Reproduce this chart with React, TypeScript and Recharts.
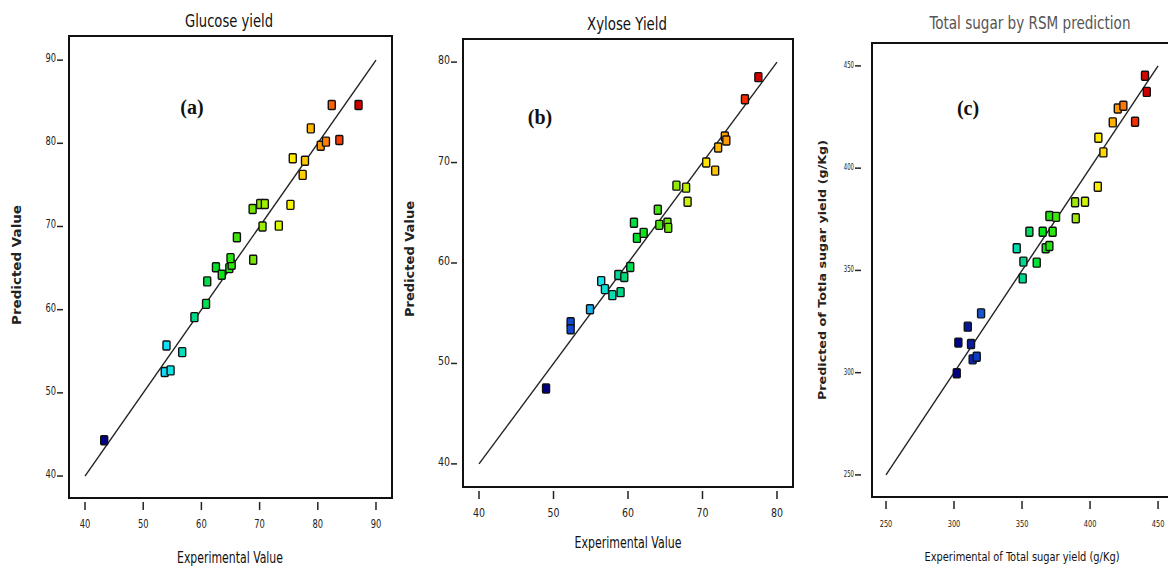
import React from 'react';
import { ScatterChart, Scatter, XAxis, YAxis, ReferenceLine, ReferenceArea } from 'recharts';

// (a) Glucose yield
const glucoseExp = [43.3, 53.7, 54.7, 54.0, 56.7, 58.8, 60.8, 61.0, 62.5, 63.5, 64.8, 65.2, 65.0, 66.1, 68.9, 68.8, 70.1, 70.9, 70.5, 73.3, 75.3, 75.7, 77.4, 77.8, 78.8, 80.5, 81.4, 83.7, 82.4, 87.0];
const glucosePred = [44.3, 52.5, 52.7, 55.7, 54.9, 59.1, 60.7, 63.4, 65.1, 64.2, 65.0, 65.4, 66.2, 68.7, 66.0, 72.1, 72.7, 72.7, 70.0, 70.1, 72.6, 78.2, 76.2, 77.9, 81.8, 79.7, 80.2, 80.4, 84.6, 84.6];
const glucoseTicks = [40, 50, 60, 70, 80, 90];

// (b) Xylose yield
const xyloseExp = [49.0, 52.3, 52.3, 54.9, 56.4, 56.9, 57.9, 59.0, 58.7, 59.5, 60.3, 61.2, 62.1, 60.8, 64.0, 64.2, 65.3, 65.4, 66.5, 67.8, 68.0, 70.5, 71.7, 72.1, 73.0, 73.2, 75.7, 77.5];
const xylosePred = [47.5, 54.1, 53.4, 55.4, 58.2, 57.4, 56.8, 57.1, 58.8, 58.6, 59.6, 62.5, 63.0, 64.0, 65.3, 63.8, 64.0, 63.5, 67.7, 67.5, 66.1, 70.0, 69.2, 71.5, 72.6, 72.2, 76.3, 78.5];
const xyloseTicks = [40, 50, 60, 70, 80];

// (c) Total sugar
const sugarExp = [302.0, 303.2, 310.1, 312.5, 313.7, 316.7, 319.9, 346.1, 350.5, 351.0, 355.4, 360.8, 365.2, 367.4, 370.1, 372.5, 370.1, 375.0, 389.0, 396.3, 389.5, 405.7, 406.1, 409.8, 416.7, 420.4, 424.5, 433.1, 440.4, 441.7];
const sugarPred = [299.7, 314.7, 322.5, 314.0, 306.5, 307.8, 329.0, 360.8, 346.1, 354.3, 368.9, 353.8, 368.9, 360.8, 361.9, 368.9, 376.6, 376.2, 383.3, 383.6, 375.5, 390.9, 414.9, 407.7, 422.4, 429.2, 430.5, 422.7, 445.2, 437.3];
const sugarTicks = [250, 300, 350, 400, 450];

const NARROW = '"Liberation Sans Narrow", "Arial Narrow", "DejaVu Sans Condensed", "Roboto Condensed", "Liberation Sans", sans-serif';
const SERIF = '"Liberation Serif", "Times New Roman", serif';
const LABEL = '"DejaVu Sans", Verdana, sans-serif';

// colour scale like Design-Expert (low = dark blue, high = red)
const STOPS: [number, number[]][] = [
  [0.0, [0, 0, 128]],
  [0.08, [10, 30, 170]],
  [0.14, [20, 100, 230]],
  [0.25, [20, 230, 245]],
  [0.35, [0, 215, 140]],
  [0.45, [0, 230, 20]],
  [0.6, [130, 230, 0]],
  [0.72, [255, 255, 0]],
  [0.85, [255, 153, 0]],
  [0.93, [255, 51, 0]],
  [1.0, [204, 0, 0]],
];

const heat = (t: number) => {
  const v = Math.max(0, Math.min(1, t));
  for (let i = 1; i < STOPS.length; i++) {
    const [t1, c1] = STOPS[i];
    const [t0, c0] = STOPS[i - 1];
    if (v <= t1) {
      const k = (v - t0) / (t1 - t0);
      const c = c0.map((a, j) => Math.round(a + (c1[j] - a) * k));
      return `rgb(${c[0]},${c[1]},${c[2]})`;
    }
  }
  return 'rgb(204,0,0)';
};

const XTick = (props: any) => {
  const { x, y, payload, fs, dw } = props;
  const s = String(payload.value);
  return (
    <g>
      <line x1={x} x2={x} y1={y + 4} y2={y + 12} stroke="#222" strokeWidth={1.5} />
      <text x={x} y={y + 30} textAnchor="middle" fontSize={fs} fontFamily={NARROW} fill="#222"
        textLength={s.length * dw} lengthAdjust="spacingAndGlyphs">
        {s}
      </text>
    </g>
  );
};

const YTick = (props: any) => {
  const { x, y, payload, fs, gap, dw } = props;
  const s = String(payload.value);
  return (
    <g>
      <line x1={x - gap} x2={x - gap + 6} y1={y} y2={y} stroke="#222" strokeWidth={1.5} />
      <text x={x - gap - 1} y={y + 2} textAnchor="end" fontSize={fs} fontFamily={NARROW} fill="#222"
        textLength={s.length * dw} lengthAdjust="spacingAndGlyphs">
        {s}
      </text>
    </g>
  );
};

interface PanelProps {
  left: number;
  width: number;
  top: number;
  right: number;
  yWidth: number;
  xHeight: number;
  xDomain: [number, number];
  yDomain: [number, number];
  ticks: number[];
  exp: number[];
  pred: number[];
  fx: number;
  fy: number;
  dx: number;
  dy: number;
  gap: number;
}

const Panel: React.FC<PanelProps> = ({ left, width, top, right, yWidth, xHeight, xDomain, yDomain, ticks, exp, pred, fx, fy, dx, dy, gap }) => {
  const data = exp.map((x, i) => ({ x, y: pred[i] }));
  const lo = Math.min(...exp);
  const hi = Math.max(...exp);
  const first = ticks[0];
  const last = ticks[ticks.length - 1];

  const square = (p: any) => (
    <rect
      x={p.cx - 3.5}
      y={p.cy - 4.5}
      width={7}
      height={9}
      rx={1}
      fill={heat((p.payload.x - lo) / (hi - lo))}
      stroke="#111"
      strokeWidth={1.4}
    />
  );

  return (
    <div style={{ position: 'absolute', left, top: 0 }}>
      <ScatterChart width={width} height={570} margin={{ top, right, left: 0, bottom: 0 }}>
        <XAxis
          type="number"
          dataKey="x"
          domain={xDomain}
          ticks={ticks}
          interval={0}
          allowDataOverflow
          axisLine={false}
          tickSize={0}
          tickMargin={0}
          height={xHeight}
          tick={(p: any) => <XTick {...p} fs={fx} dw={dx} />}
        />
        <YAxis
          type="number"
          dataKey="y"
          domain={yDomain}
          ticks={ticks}
          interval={0}
          allowDataOverflow
          axisLine={false}
          tickSize={0}
          tickMargin={0}
          width={yWidth}
          tick={(p: any) => <YTick {...p} fs={fy} gap={gap} dw={dy} />}
        />
        <ReferenceArea
          x1={xDomain[0]}
          x2={xDomain[1]}
          y1={yDomain[0]}
          y2={yDomain[1]}
          fill="#fff"
          fillOpacity={0}
          stroke="#111"
          strokeWidth={2}
          strokeOpacity={1}
        />
        <ReferenceLine
          segment={[{ x: first, y: first }, { x: last, y: last }]}
          stroke="#222"
          strokeWidth={1.4}
        />
        <Scatter data={data} shape={square} isAnimationActive={false} />
      </ScatterChart>
    </div>
  );
};

export default function App() {
  return (
    <div style={{ position: 'absolute', left: 0, top: 0, width: 1168, height: 570, overflow: 'hidden', background: '#fff' }}>
      <Panel left={0} width={400} top={36} right={8} yWidth={69} xHeight={72}
        xDomain={[37.25, 92.75]} yDomain={[37.36, 92.9]} ticks={glucoseTicks}
        exp={glucoseExp} pred={glucosePred} fx={12} fy={12} dx={5.3} dy={5.3} gap={12} />
      <Panel left={400} width={400} top={39} right={7} yWidth={63} xHeight={83}
        xDomain={[37.85, 82.15]} yDomain={[37.7, 82.3]} ticks={xyloseTicks}
        exp={xyloseExp} pred={xylosePred} fx={12.5} fy={12.5} dx={6} dy={6} gap={12} />
      <Panel left={780} width={410} top={43} right={8} yWidth={92} xHeight={73}
        xDomain={[239.7, 467.6]} yDomain={[239.2, 461.2]} ticks={sugarTicks}
        exp={sugarExp} pred={sugarPred} fx={9.5} fy={9} dx={4.2} dy={3.4} gap={17} />

      <svg width={1168} height={570} style={{ position: 'absolute', left: 0, top: 0, pointerEvents: 'none' }}>
        <text x={229} y={27} textAnchor="middle" fontSize={17} fontFamily={NARROW} fill="#111"
          textLength={88} lengthAdjust="spacingAndGlyphs">Glucose yield</text>
        <text x={627} y={30} textAnchor="middle" fontSize={17} fontFamily={NARROW} fill="#111"
          textLength={80} lengthAdjust="spacingAndGlyphs">Xylose Yield</text>
        <text x={1030} y={29} textAnchor="middle" fontSize={17} fontFamily={NARROW} fill="#555"
          textLength={201} lengthAdjust="spacingAndGlyphs">Total sugar by RSM prediction</text>

        <text x={192} y={114} textAnchor="middle" fontSize={20} fontWeight="bold" fontFamily={SERIF} fill="#111">(a)</text>
        <text x={540} y={124} textAnchor="middle" fontSize={20} fontWeight="bold" fontFamily={SERIF} fill="#111">(b)</text>
        <text x={968} y={115} textAnchor="middle" fontSize={20} fontWeight="bold" fontFamily={SERIF} fill="#111">(c)</text>

        <text x={230} y={563} textAnchor="middle" fontSize={15} fontFamily={NARROW} fill="#111"
          textLength={106} lengthAdjust="spacingAndGlyphs">Experimental Value</text>
        <text x={628} y={548} textAnchor="middle" fontSize={15} fontFamily={NARROW} fill="#111"
          textLength={107} lengthAdjust="spacingAndGlyphs">Experimental Value</text>
        <text x={1022} y={561} textAnchor="middle" fontSize={13} fontFamily={NARROW} fill="#111"
          textLength={195} lengthAdjust="spacingAndGlyphs">Experimental of Total sugar yield (g/Kg)</text>

        <text x={21} y={265} transform="rotate(-90, 21, 265)" textAnchor="middle" fontSize={11.5} fontWeight="bold" fontFamily={LABEL} fill="#222"
          textLength={120} lengthAdjust="spacingAndGlyphs">Predicted Value</text>
        <text x={414} y={259} transform="rotate(-90, 414, 259)" textAnchor="middle" fontSize={11.5} fontWeight="bold" fontFamily={LABEL} fill="#222"
          textLength={116} lengthAdjust="spacingAndGlyphs">Predicted Value</text>
        <text x={826} y={270} transform="rotate(-90, 826, 270)" textAnchor="middle" fontSize={11} fontWeight="bold" fontFamily={LABEL} fill="#222"
          textLength={260} lengthAdjust="spacingAndGlyphs">Predicted of Totla sugar yield (g/Kg)</text>
      </svg>
    </div>
  );
}
